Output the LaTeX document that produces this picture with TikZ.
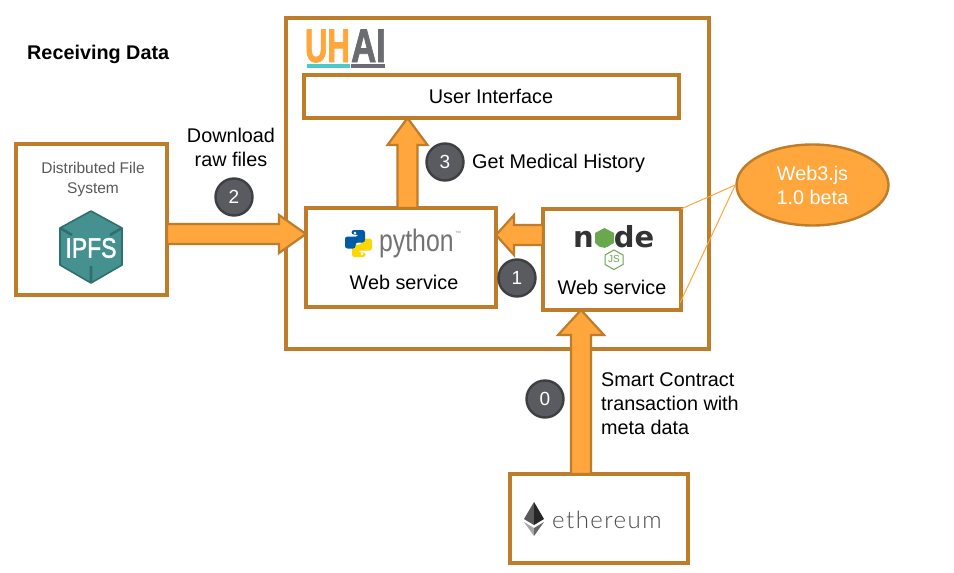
\documentclass[tikz,border=0pt]{standalone}
\usepackage{fontspec}
\setmainfont{Liberation Sans}
\newfontfamily\lightfont[UprightFont={* Light}]{Lato}
\newfontfamily\logofont{DejaVu Sans}
\usetikzlibrary{calc,shapes.geometric}
\definecolor{edgebrown}{HTML}{BD7D2B}
\definecolor{fillorange}{HTML}{FFA63C}
\definecolor{stepgray}{HTML}{5A5B60}
\definecolor{stepdark}{HTML}{3E3F42}
\definecolor{ipfsteal}{HTML}{44918F}
\definecolor{ipfsdark}{HTML}{2F6F70}
\definecolor{logogray}{HTML}{6B6C72}
\definecolor{nodegreen}{HTML}{6BA74F}
\tikzset{
  box/.style={draw=edgebrown,line width=3.6pt,fill=white,inner sep=0pt,outer sep=0pt},
  blockarrow/.style={draw=edgebrown,line width=2.2pt,fill=fillorange,line join=miter},
  stepmark/.style={circle,draw=stepdark,line width=2.4pt,fill=stepgray,text=white,minimum size=37pt,inner sep=0pt,font=\fontsize{19}{22}\selectfont},
  label/.style={inner sep=0pt,text=black,font=\fontsize{19.8}{24}\selectfont},
  thinlink/.style={draw=fillorange,line width=1pt}
}
\newcommand{\blockarrow}[5]{%
  \coordinate (headbase) at ($(#2)!#5pt!(#1)$);
  \draw[blockarrow] ($(#1)!#3pt!90:(#2)$) -- ($(headbase)!#3pt!-90:(#1)$) -- ($(headbase)!#4pt!-90:(#1)$) -- (#2) -- ($(headbase)!#4pt!90:(#1)$) -- ($(headbase)!#3pt!90:(#1)$) -- ($(#1)!#3pt!-90:(#2)$) -- cycle;
}
\begin{document}
\begin{tikzpicture}[x=1pt,y=-1pt]
\useasboundingbox (0,0) rectangle (954,573);
\fill[white] (0,0) rectangle (954,573);

% boxes
\node[box,minimum width=423pt,minimum height=331pt] (uhai) at (497.5,183.5) {};
\node[box,minimum width=375pt,minimum height=43pt] (ui) at (491.5,96.5) {};
\node[box,minimum width=190pt,minimum height=99pt] (pyweb) at (401,257.5) {};
\node[box,minimum width=138pt,minimum height=101pt] (nodeweb) at (612,259.5) {};
\node[box,minimum width=151pt,minimum height=151pt] (ipfs) at (91.5,219.5) {};
\node[box,minimum width=178pt,minimum height=89pt] (eth) at (599,518.5) {};

% block arrows
\coordinate (a2from) at ($(ipfs.east)+(0,14.5)$);
\coordinate (a2to) at (pyweb.west |- a2from);
\blockarrow{a2from}{a2to}{10}{19}{27}
\coordinate (a3from) at ($(pyweb.north)+(6.5,0)$);
\coordinate (a3to) at (a3from |- ui.south);
\blockarrow{a3from}{a3to}{10}{20}{27}
\coordinate (a1from) at ($(nodeweb.west)+(0,-24.5)$);
\coordinate (a1to) at (pyweb.east |- a1from);
\blockarrow{a1from}{a1to}{10}{20}{18}
\coordinate (a0from) at ($(eth.north)+(-18,0)$);
\coordinate (a0to) at (a0from |- nodeweb.south);
\blockarrow{a0from}{a0to}{10}{23}{25}

% links to the Web3 ellipse
\node[ellipse,draw=edgebrown,line width=2.4pt,fill=fillorange,minimum width=152pt,minimum height=81pt,inner sep=0pt,align=center,text=white,font=\fontsize{19.8}{24}\selectfont] (web3) at (812.5,185) {Web3.js\\1.0 beta};
\draw[thinlink] (nodeweb.north east) -- (web3.west);
\draw[thinlink] ($(nodeweb.south east)+(-1,-7)$) -- (web3.west);

% step marks
\node[stepmark] (s0) at (545,399) {0};
\node[stepmark] (s1) at (517,278) {1};
\node[stepmark] (s2) at (234,197) {2};
\node[stepmark] (s3) at (445,162) {3};

% labels
\node[label,font=\fontsize{19.8}{24}\bfseries\selectfont,anchor=west] (title) at (27,54.5) {Receiving Data};
\node[label] (uitext) at (491,96) {User Interface};
\node[label,align=center] (download) at (231,147) {Download\\raw files};
\node[label,anchor=west] (history) at (472,163.5) {Get Medical History};
\node[label,align=left,anchor=west] (contract) at (601,404) {Smart Contract\\transaction with\\meta data};
\node[label] (pytext) at (404,282) {Web service};
\node[label] (nodetext) at (612,287) {Web service};
\node[inner sep=0pt,align=center,text=black!65,font=\fontsize{15.5}{20}\selectfont] (dfs) at (93,179.5) {Distributed File\\System};

% UHAI logo
\node[inner sep=0pt,anchor=base east,text=fillorange,font=\fontsize{47}{47}\bfseries\selectfont,xscale=.66] (uh) at (350,62) {\addfontfeature{FakeBold=2}UH};
\node[inner sep=0pt,anchor=base west,text=logogray,font=\fontsize{47}{47}\bfseries\selectfont,xscale=.74] (ai) at (351,62) {\addfontfeature{FakeBold=2}AI};
\fill[teal!60!cyan!70!white] (307,64) rectangle (350,67.5);
\fill[logogray] (351,64) rectangle (385,67.5);

% IPFS logo
\fill[ipfsteal] (91,211) -- (122,228) -- (122,265) -- (91,283) -- (60,265) -- (60,228) -- cycle;
\draw[ipfsdark,line width=1.6pt,line join=round] (91,211) -- (122,228) -- (122,265) -- (91,283) -- (60,265) -- (60,228) -- cycle;
\draw[ipfsdark,line width=2.6pt] (60,228) -- (72,235) (122,228) -- (110,235) (91,266) -- (91,283);
\node[inner sep=0pt,text=white,font=\fontsize{28}{28}\selectfont,xscale=.82] (ipfslogo) at (91,248) {\addfontfeature{FakeBold=1.5}IPFS};

% python logo
\begin{scope}[shift={(358.5,243.5)}]
  \fill[yellow!75!orange,rounded corners=2.5pt,rotate=180] (-7,-13.5) -- (6.5,-13.5) -- (6.5,-1) -- (-3,-1) -- (-3,5) -- (-13.5,5) -- (-13.5,-7) -- (0,-7) -- (0,-9) -- (-7,-9) -- cycle;
  \fill[blue!45!cyan!65!black,rounded corners=2.5pt] (-7,-13.5) -- (6.5,-13.5) -- (6.5,-1) -- (-3,-1) -- (-3,5) -- (-13.5,5) -- (-13.5,-7) -- (0,-7) -- (0,-9) -- (-7,-9) -- cycle;
  \fill[white] (-3.5,-10.5) circle (1.4pt) (3.5,10.5) circle (1.4pt);
\end{scope}
\node[inner sep=0pt,anchor=west,text=black!55,font=\fontsize{31}{31}\selectfont,xscale=.8] (pylogo) at (379,243) {python};
\node[inner sep=0pt,text=black!40,font=\fontsize{6}{6}\selectfont] (pytm) at (458,233) {™};

% node logo
\fill[nodegreen] (604.5,228) -- (614,233) -- (614,243) -- (604.5,248) -- (595,243) -- (595,233) -- cycle;
\node[inner sep=0pt,anchor=base west,text=black!80,font=\logofont\bfseries\fontsize{29}{29}\selectfont] (nodelogo) at (573,247) {n\textcolor{nodegreen}{o}de};
\draw[nodegreen,line width=1pt] (614,250) -- (623,255) -- (623,264.5) -- (614,269.5) -- (605,264.5) -- (605,255) -- cycle;
\node[inner sep=0pt,text=nodegreen,font=\fontsize{10}{10}\selectfont] (jslogo) at (614,259.5) {JS};

% ethereum logo
\fill[black!65] (534,502) -- (534,525) -- (524,519) -- cycle;
\fill[black!85] (534,502) -- (534,525) -- (544,519) -- cycle;
\fill[black!35] (524,522) -- (534,528) -- (534,536) -- cycle;
\fill[black!60] (544,522) -- (534,528) -- (534,536) -- cycle;
\node[inner sep=0pt,anchor=west,text=black!70,font=\lightfont\fontsize{24}{24}\selectfont] (ethlogo) at (552,520) {\addfontfeature{LetterSpace=6}ethereum};
\end{tikzpicture}
\end{document}
